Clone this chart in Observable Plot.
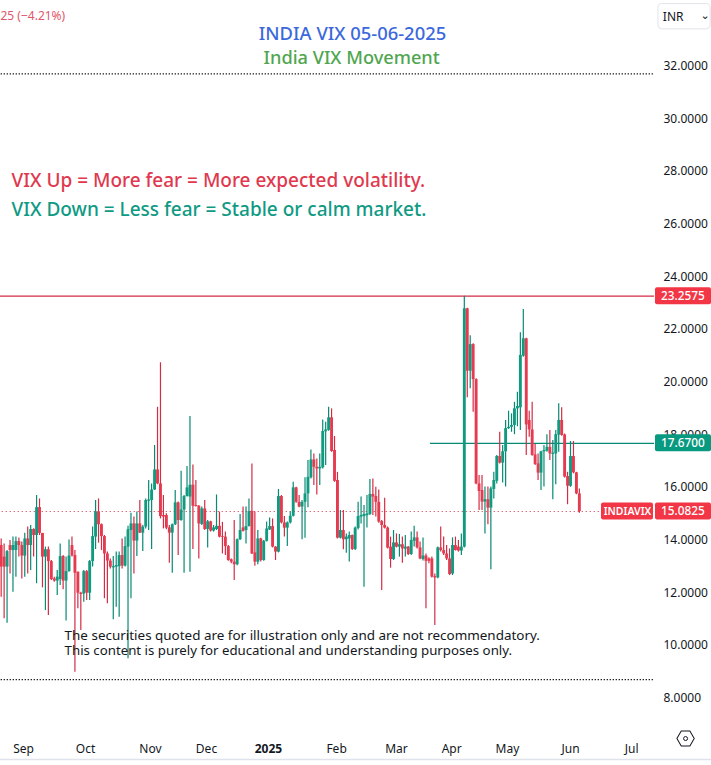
<!DOCTYPE html>
<html><head><meta charset="utf-8">
<script src="https://cdn.jsdelivr.net/npm/d3@7"></script>
<script src="https://cdn.jsdelivr.net/npm/@observablehq/plot@0.6"></script>
<style>html,body{margin:0;padding:0;background:#fff}svg{display:block}</style>
</head><body><div id="chart"></div>
<script>
const opens=[13.79,13.35,12.97,13.79,13.60,13.60,13.94,13.79,13.39,14.04,13.79,14.40,14.17,15.23,14.25,13.35,13.63,13.18,12.52,12.44,12.50,13.37,12.44,12.80,13.79,13.41,12.78,11.98,11.95,12.80,11.98,13.18,14.11,15.07,14.58,14.13,13.47,13.20,12.94,12.97,12.99,13.41,13.01,13.73,14.36,14.61,13.96,14.61,14.26,14.49,15.47,15.50,15.90,16.66,16.13,14.93,14.93,14.46,14.26,14.58,15.41,14.74,15.14,15.65,15.63,16.08,15.31,15.28,14.59,15.18,14.40,14.69,14.34,14.40,14.52,
14.13,14.11,13.75,13.25,13.16,13.06,14.01,14.46,14.36,14.51,15.09,13.51,13.16,14.04,13.22,13.95,14.38,14.51,13.73,13.54,15.65,14.65,14.45,14.65,14.90,15.98,15.43,15.25,15.43,15.75,16.36,17.04,16.76,16.70,16.74,18.11,18.16,18.64,17.40,16.26,14.07,14.36,14.01,14.04,14.17,13.64,14.44,14.87,14.89,14.92,14.97,15.73,15.65,15.43,14.70,14.55,14.45,13.73,13.26,13.89,13.73,13.82,13.65,13.73,13.45,13.95,14.08,13.70,13.26,13.39,13.28,13.28,12.61,12.56,13.70,13.60,13.47,13.28,
12.71,13.79,13.73,13.58,13.73,22.78,20.41,21.42,20.09,16.13,15.88,15.44,15.53,15.21,15.92,16.23,17.17,16.92,17.35,18.23,18.28,18.35,18.98,19.02,20.98,21.64,18.54,18.18,17.23,16.89,16.54,17.35,17.37,17.52,17.25,17.27,17.98,18.54,17.99,16.41,16.04,17.17,16.55,15.75];
const closes=[12.97,12.97,13.56,13.60,13.79,13.94,13.79,13.39,14.04,13.79,14.40,14.17,15.23,14.25,13.35,13.63,13.18,12.50,12.44,12.59,13.37,12.44,12.80,13.39,13.39,12.74,11.98,11.93,12.80,11.98,13.18,14.13,15.07,14.58,14.13,13.47,13.20,12.97,12.99,13.03,13.41,13.01,13.75,14.39,14.61,13.96,14.61,14.26,14.49,15.50,15.52,15.90,16.66,16.13,14.89,14.87,14.45,14.26,14.58,15.41,14.74,15.14,15.65,15.98,16.08,15.28,15.27,14.61,15.18,14.40,14.69,14.34,14.46,14.52,14.11,
14.10,13.75,13.22,13.16,13.06,14.01,14.36,14.33,14.51,15.08,13.47,13.16,14.04,13.22,13.95,14.42,14.51,13.73,13.54,15.65,14.65,14.45,14.65,14.90,15.98,15.43,15.25,15.43,15.75,16.38,17.04,16.76,16.70,16.76,18.12,18.18,18.64,17.36,16.23,14.07,14.36,14.01,14.11,14.17,13.64,14.45,14.89,14.93,14.97,14.99,15.73,15.63,15.43,14.68,14.55,14.45,13.69,13.26,13.89,13.73,13.82,13.66,13.73,13.45,13.98,14.08,13.70,13.28,13.39,13.19,13.19,12.59,12.56,13.70,13.60,13.47,13.28,12.69,
13.79,13.60,13.58,13.73,22.78,20.41,21.42,20.09,16.13,15.84,15.44,15.53,15.21,15.94,16.26,17.17,16.92,17.35,18.23,18.28,18.35,18.98,19.07,21.01,21.64,18.37,18.18,17.21,16.87,16.54,17.35,17.40,17.52,17.27,17.30,18.00,18.54,17.97,16.39,16.04,17.17,16.55,15.75,15.0825];
const highs=[14.04,13.85,13.60,13.98,14.11,14.11,14.08,13.92,14.26,14.49,14.55,14.43,15.69,15.56,14.25,13.73,13.73,13.22,12.59,12.84,13.85,13.41,13.35,14.00,14.11,13.60,12.78,12.02,12.84,12.84,13.22,14.49,15.50,15.56,14.61,14.17,13.54,13.28,13.37,13.54,13.54,14.04,14.11,14.52,15.02,14.87,15.06,15.50,14.55,15.56,16.26,16.13,17.59,19.04,20.73,15.69,15.00,14.55,14.61,15.88,15.44,16.61,15.69,16.79,18.69,16.85,16.26,15.31,15.25,15.50,14.74,14.71,14.55,15.71,15.06,
14.67,14.30,13.79,13.28,14.74,14.04,14.97,15.25,15.25,15.56,16.89,15.06,14.36,14.07,13.98,14.68,14.84,14.80,13.75,15.92,15.69,14.89,14.68,15.06,16.19,16.00,15.69,15.50,16.36,17.02,17.42,17.27,17.08,17.27,18.56,18.47,19.04,18.98,17.93,16.57,15.12,15.12,14.23,14.30,14.19,14.49,15.43,15.63,15.31,15.69,16.30,16.32,16.00,15.90,14.74,15.59,14.49,14.11,14.36,14.23,14.21,14.11,14.17,13.75,14.30,14.52,14.30,13.92,14.08,13.47,13.33,13.35,12.71,13.73,14.49,14.11,13.79,13.66,
14.08,14.11,13.98,14.23,23.2575,22.80,21.76,21.45,20.12,16.45,16.45,16.01,16.01,16.01,16.57,17.21,18.09,17.59,18.54,18.89,18.79,19.23,19.61,21.87,22.75,21.66,18.89,19.23,17.63,17.27,17.37,17.59,18.00,18.16,17.78,18.16,19.17,19.02,18.03,16.57,17.74,17.74,16.57,15.94];
const lows=[11.83,11.01,10.84,12.71,12.02,12.59,13.35,12.52,12.59,12.71,12.84,13.35,12.34,14.17,12.18,11.32,11.13,12.46,12.40,11.89,12.27,12.11,10.92,12.78,13.35,8.98,11.39,10.56,11.64,11.70,11.70,12.97,13.64,13.88,13.60,11.77,11.58,12.90,10.97,11.45,11.07,12.90,12.97,9.49,11.77,12.71,13.37,14.25,13.56,14.42,14.36,13.64,15.88,16.10,14.80,14.42,14.39,13.12,12.74,14.55,13.41,14.71,12.74,15.63,12.78,13.64,15.25,13.28,14.55,14.36,13.70,14.30,14.30,14.36,14.08,
13.47,13.41,13.19,13.10,12.46,13.02,13.98,14.30,13.85,14.49,13.45,13.00,13.06,13.16,13.19,13.92,14.36,13.70,13.22,13.51,14.61,14.11,13.75,14.61,14.87,15.40,15.22,14.01,14.07,15.22,16.32,16.07,15.71,16.07,16.70,16.83,18.13,17.33,16.19,14.04,14.04,13.63,13.50,13.16,13.60,13.60,14.38,14.61,12.21,14.46,14.93,14.93,14.87,14.64,12.08,14.42,13.66,12.93,13.22,13.70,13.35,13.12,13.35,13.41,13.41,13.73,13.66,13.25,13.20,11.39,13.10,12.56,10.75,12.53,13.54,13.41,13.22,12.65,
12.65,13.58,13.54,13.41,13.70,19.40,19.74,18.85,16.10,15.12,15.12,14.23,14.58,12.87,15.56,16.13,16.89,16.16,16.01,18.20,18.09,18.00,18.30,18.16,20.94,17.21,17.90,17.18,16.83,16.26,15.88,16.01,17.33,17.02,15.53,16.10,17.33,17.94,16.35,15.34,16.00,16.51,15.72,15.02];

const priceTicks=[32,30,28,26,24,22,20,18,16,14,12,10,8];
const timeLabels=["Sep","Oct","Nov","Dec","Feb","Mar","Apr","May","Jun","Jul"];
const timeBars=[7.6,28.6,50.6,69.6,113.7,134,152.7,171.6,193,213.7];
const yearLabel="2025", yearBar=90.6;
const lastPrice=15.0825, highLine=23.2575, openLine=17.67;
const upperDotted=31.70, lowerDotted=8.70;

const GREEN="#089981", RED="#f23645", BODY_RED="#e53b50", BODY_GREEN="#129a80", WICK_RED="#d42c45", WICK_GREEN="#078a74";
const FONT="'Noto Sans',sans-serif";
const bars=d3.range(opens.length);
const xEnd=221.47, xFull=241, xStart=-1;
const isUp=i=>closes[i]>=opens[i];
const sel=f=>bars.filter(f);

const chart=Plot.plot({
  width:711,height:765,marginTop:0,marginLeft:0,marginRight:57,marginBottom:30,
  style:{background:"#fff",fontFamily:FONT},
  x:{type:"linear",domain:[0,xEnd],range:[0.67,654],axis:null},
  y:{type:"linear",domain:[32,8],range:[65.5,697.5],axis:null},
  marks:[
    Plot.axisY({anchor:"right",ticks:priceTicks,tickSize:0,tickPadding:9,tickFormat:d3.format(".4f"),label:null,fontSize:12,fill:"#131722"}),
    Plot.axisX({anchor:"bottom",ticks:timeBars,tickSize:0,tickPadding:9,label:null,fontSize:12,fill:"#131722",tickFormat:d=>timeLabels[timeBars.indexOf(d)]}),
    Plot.axisX({anchor:"bottom",ticks:[yearBar],tickSize:0,tickPadding:9,label:null,fontSize:12,fontWeight:"bold",fill:"#131722",tickFormat:()=>yearLabel}),
    Plot.ruleY([5.66],{x1:()=>xStart,x2:()=>xFull,stroke:"#e0e3eb",strokeWidth:1.5}),
    Plot.ruleY([upperDotted,lowerDotted],{y:d=>d,x1:()=>0,x2:()=>xEnd,stroke:"#000",strokeWidth:1.3,strokeDasharray:"1.2,1.8"}),
    Plot.ruleY([lastPrice],{y:d=>d,x1:()=>xStart,x2:()=>203,stroke:WICK_RED,strokeWidth:1.1,strokeDasharray:"1,3"}),
    Plot.ruleY([lastPrice],{y:d=>d,x1:()=>xEnd-2,x2:()=>xEnd,stroke:WICK_RED,strokeWidth:1.1,strokeDasharray:"1,3"}),
    Plot.ruleY([highLine],{y:d=>d,x1:()=>xStart,x2:()=>xEnd,stroke:WICK_RED,strokeWidth:1.2}),
    Plot.ruleY([openLine],{y:d=>d,x1:()=>145.5,x2:()=>xEnd,stroke:WICK_GREEN,strokeWidth:1.2}),
    Plot.ruleX(sel(i=>isUp(i)),{x:i=>i,y1:i=>lows[i],y2:i=>highs[i],stroke:WICK_GREEN,strokeWidth:1.2}),
    Plot.ruleX(sel(i=>!isUp(i)),{x:i=>i,y1:i=>lows[i],y2:i=>highs[i],stroke:WICK_RED,strokeWidth:1.2}),
    Plot.ruleX(bars,{x:i=>i,y1:i=>opens[i],y2:i=>closes[i],stroke:i=>isUp(i)?BODY_GREEN:BODY_RED,strokeWidth:2.9}),
    Plot.rect([highLine,lastPrice],{x1:()=>xEnd,x2:()=>xEnd,y1:d=>d,y2:d=>d,insetLeft:1,insetRight:-57,insetTop:-8.5,insetBottom:-8.5,fill:RED,rx:2}),
    Plot.rect([openLine],{x1:()=>xEnd,x2:()=>xEnd,y1:d=>d,y2:d=>d,insetLeft:1,insetRight:-57,insetTop:-8.5,insetBottom:-8.5,fill:GREEN,rx:2}),
    Plot.rect([lastPrice],{x1:()=>xEnd,x2:()=>xEnd,y1:d=>d,y2:d=>d,insetLeft:-53,insetRight:1,insetTop:-8.5,insetBottom:-8.5,fill:RED,rx:2}),
    Plot.text([highLine,openLine,lastPrice],{x:()=>231.1,y:d=>d,text:d=>d3.format(".4f")(d),fill:"#fff",fontSize:11.8,fontWeight:500}),
    Plot.text([lastPrice],{x:()=>212.3,y:d=>d,text:()=>"INDIAVIX",fill:"#fff",fontSize:10.5,fontWeight:600}),
    Plot.text(["INDIA VIX 05-06-2025"],{x:()=>119.1,y:()=>33.23,text:d=>d,fill:"#3b68dc",fontSize:18.4,fontWeight:500}),
    Plot.text(["India VIX Movement"],{x:()=>118.8,y:()=>32.28,text:d=>d,fill:"#4fa64f",fontSize:18.2,fontWeight:500}),
    Plot.text(["25 (−4.21%)"],{x:()=>-0.23,y:()=>33.88,text:d=>d,fill:"#e0566a",fontSize:12,textAnchor:"start"}),
    Plot.text(["VIX Up = More fear = More expected volatility."],{x:()=>3.5,y:()=>27.65,text:d=>d,fill:"#e0394f",fontSize:19,fontWeight:500,textAnchor:"start"}),
    Plot.text(["VIX Down = Less fear = Stable or calm market."],{x:()=>3.5,y:()=>26.55,text:d=>d,fill:"#0f9a84",fontSize:19,fontWeight:500,textAnchor:"start"}),
    Plot.text(["The securities quoted are for illustration only and are not recommendatory."],{x:()=>21.5,y:()=>10.35,text:d=>d,fill:"#131722",fontSize:13.45,textAnchor:"start"}),
    Plot.text(["This content is purely for educational and understanding purposes only."],{x:()=>21.5,y:()=>9.78,text:d=>d,fill:"#131722",fontSize:13.25,textAnchor:"start"}),
    Plot.rect(["INR"],{x1:()=>222.8,x2:()=>240.5,y1:()=>34.35,y2:()=>33.39,fill:"#fff",stroke:"#e0e3eb",rx:4}),
    Plot.text(["INR"],{x:()=>224.3,y:()=>33.85,text:d=>d,fill:"#131722",fontSize:12,textAnchor:"start"}),
    Plot.text(["⌄"],{x:()=>238.6,y:()=>33.92,text:d=>d,fill:"#131722",fontSize:11,fontFamily:"'DejaVu Sans',sans-serif"}),
    Plot.dot(["gear"],{x:()=>232,y:()=>6.46,symbol:"hexagon",r:7.5,rotate:30,stroke:"#131722",fill:"none",strokeWidth:1}),
    Plot.dot(["gear"],{x:()=>232,y:()=>6.46,r:2,stroke:"#131722",fill:"none",strokeWidth:1})
  ]
});
document.getElementById("chart").append(chart);
</script></body></html>
